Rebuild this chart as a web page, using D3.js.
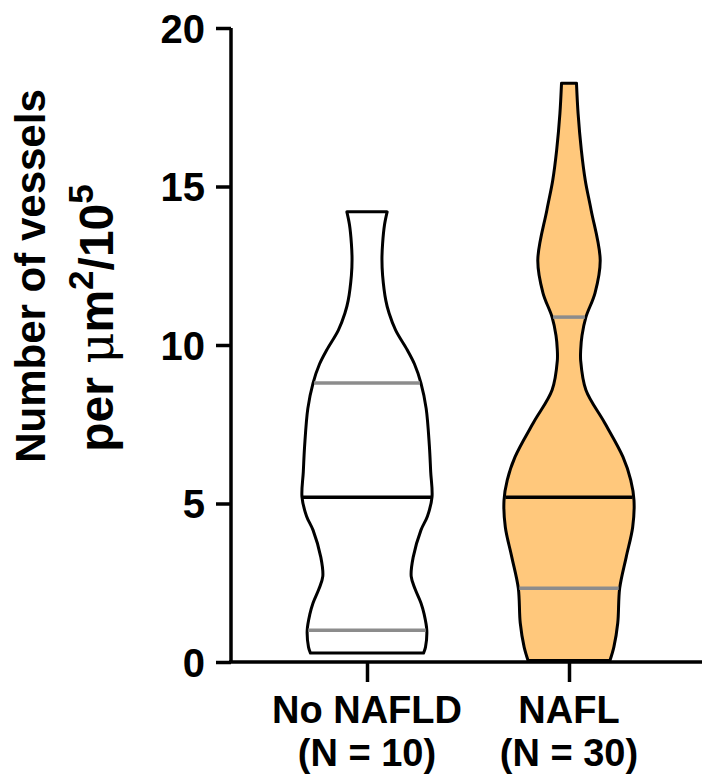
<!DOCTYPE html>
<html>
<head>
<meta charset="utf-8">
<script src="https://cdn.jsdelivr.net/npm/d3@7"></script>
<style>
  html, body { margin: 0; padding: 0; background: #fff; }
  svg { display: block; font-family: "Liberation Sans", Arial, Helvetica, sans-serif; }
</style>
</head>
<body>
<svg id="chart" width="704" height="777"></svg>
<script>
// Groups shown on the x axis
const categories = ["No NAFLD", "NAFL"];
const groupSizes = [10, 30];

// Kernel density profile of each group: [vessels value, relative density]
const densityNoNafld = [
  [0.28, 0.87], [0.47, 0.90], [1.0, 0.92], [1.5, 0.88], [1.86, 0.83], [2.3, 0.74], [2.7, 0.68],
  [3.3, 0.71], [4.16, 0.83], [4.6, 0.93], [5.2, 1.00], [6.0, 0.98], [6.8, 0.96],
  [8.0, 0.91], [8.8, 0.83], [9.4, 0.73], [9.84, 0.62], [10.47, 0.44], [11.0, 0.34],
  [11.4, 0.29], [12.2, 0.24], [12.7, 0.23], [13.2, 0.24], [13.8, 0.27], [14.2, 0.31]
];
const densityNafl = [
  [0.05, 0.63], [0.47, 0.69], [1.23, 0.75], [2.33, 0.78], [3.31, 0.88], [4.26, 0.98],
  [5.1, 1.00], [5.74, 0.95], [6.47, 0.83], [7.54, 0.55], [8.58, 0.26], [9.5, 0.18],
  [9.85, 0.18], [10.3, 0.20], [10.88, 0.26], [11.64, 0.40], [12.68, 0.48], [14.26, 0.34],
  [15.2, 0.25], [16.15, 0.19], [17.3, 0.14], [18.26, 0.115]
];

// Median and quartiles of each group
const medians = [5.2, 5.2];
const lowerQuartiles = [1.0, 2.33];
const upperQuartiles = [8.8, 10.88];

// Axis ticks
const yTicks = [0, 5, 10, 15, 20];

const densities = [densityNoNafld, densityNafl];
const fills = ["#ffffff", "#ffc87c"];

const svg = d3.select("#chart");

const y = d3.scaleLinear().domain([0, 20]).range([662, 28]);
const x = d3.scalePoint().domain(categories).range([367, 569]);
const w = d3.scaleLinear().domain([0, 1]).range([0, 65]);

// Violins
const area = d3.area()
  .curve(d3.curveCatmullRom)
  .y(d => y(d[0]));

categories.forEach((cat, i) => {
  const cx = x(cat);
  const prof = densities[i];
  svg.append("path")
    .datum(prof)
    .attr("d", area.x0(d => cx - w(d[1])).x1(d => cx + w(d[1])))
    .attr("fill", fills[i])
    .attr("stroke", "#000")
    .attr("stroke-width", 3)
    .attr("stroke-linejoin", "round");

  // half-width of the violin at a given value
  const halfAt = v => {
    for (let k = 0; k < prof.length - 1; k++) {
      const a = prof[k], b = prof[k + 1];
      if (v >= a[0] && v <= b[0]) {
        const t = (v - a[0]) / (b[0] - a[0]);
        return w(a[1] + t * (b[1] - a[1]));
      }
    }
    return 0;
  };

  const stats = [
    { v: lowerQuartiles[i], c: "#8c8c8c" },
    { v: upperQuartiles[i], c: "#8c8c8c" },
    { v: medians[i], c: "#000" }
  ];
  stats.forEach(s => {
    const hw = halfAt(s.v) - 1;
    svg.append("line")
      .attr("x1", cx - hw).attr("x2", cx + hw)
      .attr("y1", y(s.v)).attr("y2", y(s.v))
      .attr("stroke", s.c)
      .attr("stroke-width", 3.5);
  });
});

// Y axis
const yAxis = svg.append("g")
  .attr("transform", "translate(231,0)")
  .call(d3.axisLeft(y).tickValues(yTicks).tickSize(15).tickPadding(11).tickFormat(d3.format("d")));
yAxis.select(".domain").attr("d", `M0,${y(0)}V${y(20)}`);
yAxis.selectAll("path, line").attr("stroke", "#000").attr("stroke-width", 3.5);
yAxis.selectAll("text")
  .attr("font-size", 40).attr("font-weight", "bold").attr("fill", "#000")
  .attr("font-family", "Liberation Sans, Arial, sans-serif")
  .attr("dy", "0.36em");

// X axis
const xAxis = svg.append("g")
  .attr("transform", `translate(0,${y(0)})`)
  .call(d3.axisBottom(x).tickSize(20).tickFormat(""));
xAxis.select(".domain").attr("d", "M229,0H702");
xAxis.selectAll("path, line").attr("stroke", "#000").attr("stroke-width", 3.5);

categories.forEach((cat, i) => {
  const t = svg.append("text")
    .attr("x", x(cat))
    .attr("text-anchor", "middle")
    .attr("font-size", 38)
    .attr("font-weight", "bold")
    .attr("fill", "#000");
  t.append("tspan").attr("x", x(cat)).attr("y", 723).text(cat);
  t.append("tspan").attr("x", x(cat)).attr("y", 766).text(`(N = ${groupSizes[i]})`);
});

// Y axis title
svg.append("text")
  .attr("transform", "translate(45,276) rotate(-90)")
  .attr("text-anchor", "middle")
  .attr("font-size", 42)
  .attr("font-weight", "bold")
  .text("Number of vessels");

const t2 = svg.append("text")
  .attr("transform", "translate(113,318) rotate(-90)")
  .attr("text-anchor", "middle")
  .attr("font-size", 48)
  .attr("font-weight", "bold");
t2.append("tspan").text("per ");
t2.append("tspan").attr("font-weight", "normal").attr("font-family", "DejaVu Serif, serif").text("μ");
t2.append("tspan").text("m");
t2.append("tspan").attr("font-size", 35).attr("dy", -20).text("2");
t2.append("tspan").attr("dy", 20).text("/10");
t2.append("tspan").attr("font-size", 35).attr("dy", -20).text("5");
</script>
</body>
</html>
